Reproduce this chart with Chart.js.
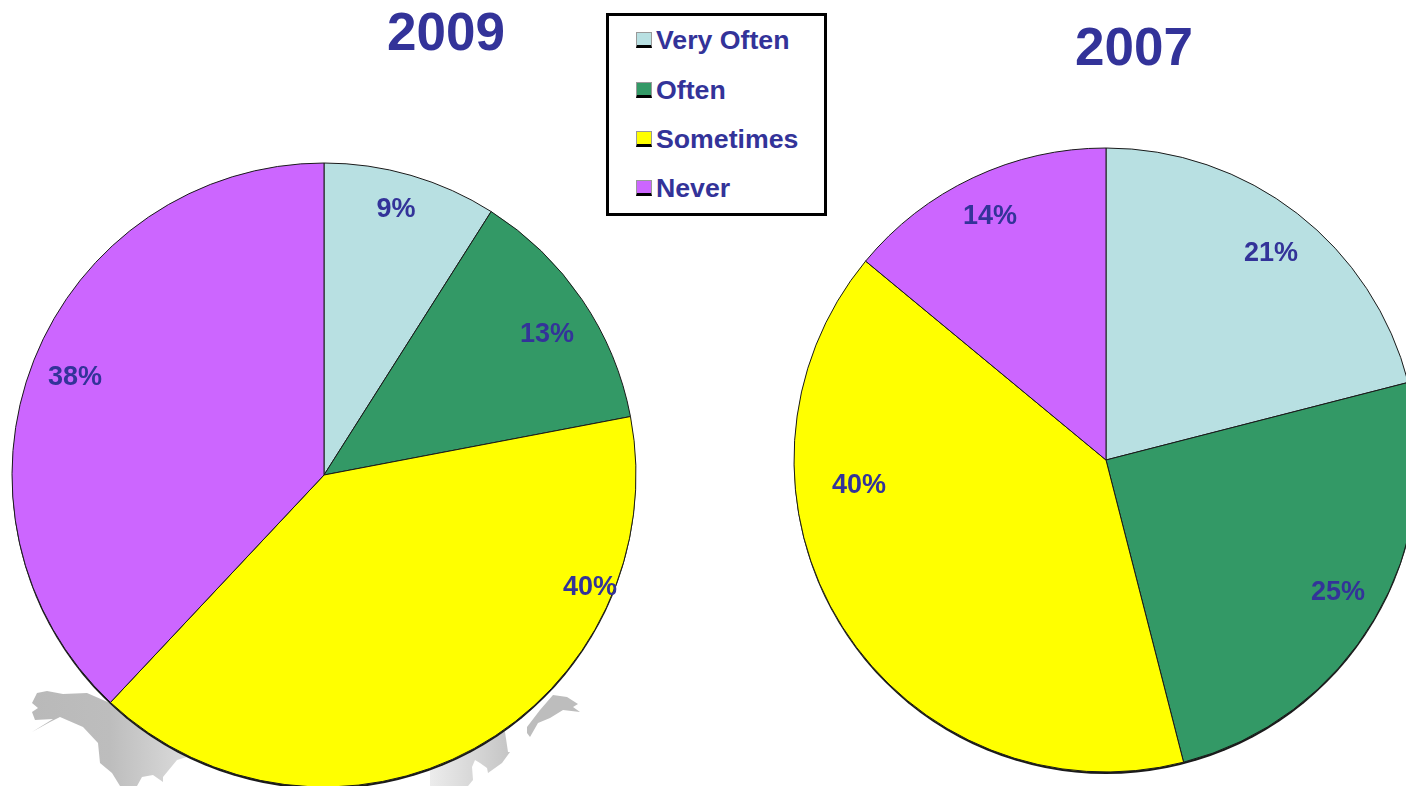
<!DOCTYPE html>
<html>
<head>
<meta charset="utf-8">
<title>2009 / 2007</title>
<script src="https://cdn.jsdelivr.net/npm/chart.js@4"></script>
<style>
html, body { margin: 0; padding: 0; background: #fff; overflow: hidden; }
#pagina { position: relative; width: 1406px; height: 786px; overflow: hidden; font-family: "Liberation Sans", Arial, sans-serif; }
#pagina canvas { position: absolute; }
#mapa { position: absolute; left: 0; top: 0; }
.titulo { position: absolute; font-weight: bold; font-size: 53px; line-height: 52px; color: #333399; }
#leyenda { position: absolute; left: 606px; top: 13px; width: 215px; height: 197px; border: 3px solid #000; background: #fff; }
.fila { position: absolute; left: 27px; height: 20px; }
.muestra { position: absolute; left: 0; top: 0; width: 14px; height: 12px; border: 1px solid #999; border-bottom: 3px solid #000; }
.rotulo { position: absolute; left: 20px; top: -7px; font-weight: bold; font-size: 26.7px; line-height: 30px; color: #333399; white-space: nowrap; }
</style>
</head>
<body>
<div id="pagina">
  <svg id="mapa" width="1406" height="786">
    <defs>
      <linearGradient id="grisAmerica" gradientUnits="userSpaceOnUse" x1="30" y1="0" x2="190" y2="0">
        <stop offset="0" stop-color="#b9b9b9"/><stop offset="0.5" stop-color="#bdbdbd"/><stop offset="1" stop-color="#dcdcdc"/>
      </linearGradient>
      <linearGradient id="grisAsia" gradientUnits="userSpaceOnUse" x1="430" y1="0" x2="530" y2="0">
        <stop offset="0" stop-color="#ececec"/><stop offset="1" stop-color="#bbbbbb"/>
      </linearGradient>
    </defs>
    <polygon fill="url(#grisAmerica)" points="32,703 37,693 47,691 63,694 87,693 110,703 127,713 187,757 177,760 163,777 163,782 153,775 142,777 137,786 120,786 112,773 100,763 98,743 83,727 60,717 50,722 32,732 53,719 35,720 32,712 38,708"/>
    <polygon fill="url(#grisAsia)" points="430,760 470,740 500,725 505,732 508,752 510,752 502,763 488,773 487,768 480,763 475,760 472,767 473,780 468,786 430,786"/>
    <polygon fill="#bdbdbd" points="527,727 540,710 553,695 567,697 578,704 573,707 580,712 563,710 550,718 538,723 530,737 527,733"/>
  </svg>

  <canvas id="torta2009" width="640" height="640" style="left:4px;top:155px"></canvas>
  <canvas id="torta2007" width="640" height="640" style="left:786px;top:140px"></canvas>

  <div class="titulo" style="left:387px;top:6px">2009</div>
  <div class="titulo" style="left:1075px;top:21px">2007</div>
  <div id="leyenda"></div>
</div>

<script>
const categorias = ['Very Often', 'Often', 'Sometimes', 'Never'];
const colores = ['#B8E0E2', '#339966', '#FFFF00', '#CC66FF'];

const valores2009 = [9, 13, 40, 38];
const valores2007 = [21, 25, 40, 14];

// sitio de cada rótulo respecto al centro de la torta, en px
const sitios2009 = [[72, -265], [223, -140], [266, 113], [-249, -97]];
const sitios2007 = [[165, -206], [232, 133], [-247, 26], [-116, -243]];

const filasLeyenda = [16, 66, 115, 164];

// --- LEYENDA ---
const leyenda = document.getElementById('leyenda');
categorias.forEach((c, i) => {
    const fila = document.createElement('div');
    fila.className = 'fila';
    fila.style.top = filasLeyenda[i] + 'px';
    fila.innerHTML = `<div class="muestra" style="background:${colores[i]}"></div><div class="rotulo">${c}</div>`;
    leyenda.appendChild(fila);
});

// sombra negra bajo el borde de la torta
const sombra = {
    id: 'sombra',
    beforeDatasetsDraw(chart) {
        const a = chart.getDatasetMeta(0).data[0];
        const c = chart.ctx;
        c.save();
        c.fillStyle = '#1a1a1a';
        c.beginPath();
        c.arc(a.x, a.y + 2, a.outerRadius, 0, Math.PI * 2);
        c.fill();
        c.restore();
    }
};

// rótulos de % encima de las porciones
const rotulosPlugin = {
    id: 'rotulos',
    afterDatasetsDraw(chart, args, opts) {
        const a = chart.getDatasetMeta(0).data[0];
        const c = chart.ctx;
        c.save();
        c.font = 'bold 27px "Liberation Sans", Arial, sans-serif';
        c.fillStyle = '#333399';
        c.textAlign = 'center';
        c.textBaseline = 'middle';
        chart.data.datasets[0].data.forEach((v, i) => c.fillText(v + '%', a.x + opts.sitios[i][0], a.y + opts.sitios[i][1]));
        c.restore();
    }
};

function crearTorta(id, valores, sitios) {
    new Chart(document.getElementById(id).getContext('2d'), {
        type: 'pie',
        data: { labels: categorias, datasets: [{ data: valores, backgroundColor: colores, borderColor: '#1a1a1a', borderWidth: 1, radius: 312 }] },
        options: {
            responsive: false,
            animation: false,
            layout: { padding: 0 },
            plugins: { legend: { display: false }, tooltip: { enabled: false }, rotulos: { sitios: sitios } }
        },
        plugins: [sombra, rotulosPlugin]
    });
}

crearTorta('torta2009', valores2009, sitios2009);
crearTorta('torta2007', valores2007, sitios2007);
</script>
</body>
</html>
